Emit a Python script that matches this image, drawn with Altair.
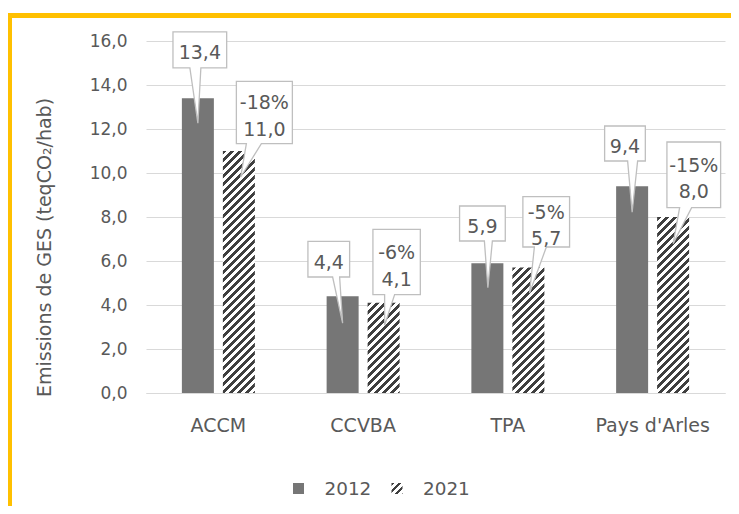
import altair as alt
import pandas as pd
import numpy as np

# ---------------- data ----------------
categories = ["ACCM", "CCVBA", "TPA", "Pays d'Arles"]
years = ["2012", "2021"]
values_2012 = [13.4, 4.4, 5.9, 9.4]
values_2021 = [11.0, 4.1, 5.7, 8.0]
change_labels = ["-18%", "-6%", "-5%", "-15%"]
y_ticks = [0, 2, 4, 6, 8, 10, 12, 14, 16]
y_title = "Emissions de GES (teqCO\u2082/hab)"

# ---------------- layout / style constants ----------------
PLOT_W, PLOT_H = 579, 352
Y_MAX = 16
PX = PLOT_H / Y_MAX
BAR_W, GAP = 32, 9
STEP = PLOT_W / len(categories)
OFF_STEP = BAR_W + GAP
OFF_PI = GAP / OFF_STEP
OFF_PO = (STEP / OFF_STEP - 2 + OFF_PI) / 2
HALF = OFF_STEP / 2

FONT = "DejaVu Sans"
TEXT = "#595959"
GRID = "#D9D9D9"
BAR_2012 = "#767676"
HATCH = "#3F3F3F"
FRAME = "#FFC000"
BOX = "#BFBFBF"
LINE_H = 26.7

# callout geometry relative to (bar centre, bar top), in pixels
CALLOUTS = {
    "2012": [
        dict(box=(-24.9, -66.4, 28.8, -30.4), base=(-8, 3), tip=(0, 25)),
        dict(box=(-34.7, -54.9, 7.0, -19.2), base=(-10, -3), tip=(0, 27)),
        dict(box=(-27.8, -57.2, 17.9, -22.2), base=(-3, 5), tip=(0.5, 24.5)),
        dict(box=(-27.5, -60.2, 13.2, -25.2), base=(-4.5, 5.5), tip=(0, 26)),
    ],
    "2021": [
        dict(box=(-2.5, -69.7, 53.5, -7.4), base=(7.5, 22.5), tip=(1.8, 26)),
        dict(box=(-10.7, -73.5, 36.7, -8.2), base=(1, 11), tip=(1, 22.5)),
        dict(box=(-5.5, -71, 41.2, -20.6), base=(6, 18), tip=(1.2, 25.4)),
        dict(box=(-6.2, -75, 47.5, -9.4), base=(6.5, 18.5), tip=(0, 26.6)),
    ],
}


def fmt(v):
    return f"{v:.1f}".replace(".", ",")


rows = []
for i, c in enumerate(categories):
    rows.append(dict(idx=i, category=c, year="2012", value=values_2012[i],
                     label=fmt(values_2012[i])))
    rows.append(dict(idx=i, category=c, year="2021", value=values_2021[i],
                     label=change_labels[i] + "\n" + fmt(values_2021[i])))
df = pd.DataFrame(rows)
one = pd.DataFrame({"k": [0]})


def hatch(w, h, period=8.0, frac=0.5):
    L = w + h
    k = L / (w * w + h * h)
    stops = []
    n = int(np.ceil(L / period))
    for j in range(n):
        a = min(j * period / L, 1.0)
        b = min((j * period + period * frac) / L, 1.0)
        c = min((j + 1) * period / L, 1.0)
        stops += [
            {"offset": round(a, 5), "color": HATCH},
            {"offset": round(b, 5), "color": HATCH},
            {"offset": round(b, 5), "color": "#FFFFFF"},
            {"offset": round(c, 5), "color": "#FFFFFF"},
        ]
    return {"gradient": "linear", "x1": 0, "y1": 0, "x2": w * k, "y2": h * k,
            "stops": stops}


def callout_path(shift, box, base, tip):
    L, T, R, B = box
    b1, b2 = base
    tx, ty = tip
    pts = [(L, T), (R, T), (R, B), (b2, B), (tx, ty), (b1, B), (L, B)]
    return "M" + " L".join(f"{x + shift:.2f},{y:.2f}" for x, y in pts) + " Z"


x_scale = alt.Scale(domain=categories, paddingInner=0, paddingOuter=0)
y_scale = alt.Scale(domain=[0, Y_MAX], nice=False)
xoff = alt.XOffset("year:N", scale=alt.Scale(domain=years, paddingInner=OFF_PI,
                                             paddingOuter=OFF_PO))

x_axis = alt.Axis(
    title=None, labelAngle=0, ticks=False, tickSize=0, grid=False,
    domainColor=GRID, domainWidth=1, labelColor=TEXT, labelFontSize=19,
    labelFont=FONT, labelBaseline="middle", labelPadding=32)
y_axis = alt.Axis(
    values=y_ticks, labelExpr="replace(format(datum.value, '.1f'), '.', ',')",
    domain=False, ticks=False, tickSize=0, grid=True, gridColor=GRID,
    gridWidth=1, labelColor=TEXT, labelFontSize=17, labelFont=FONT,
    labelPadding=19, title=y_title, titleFont=FONT, titleFontSize=19,
    titleFontWeight="normal", titleColor=TEXT, titleX=-102, titleY=206,
    titleAlign="center", titleBaseline="middle", titleAngle=270)

x_enc = alt.X("category:N", scale=x_scale, sort=categories, axis=x_axis)
y_enc = alt.Y("value:Q", scale=y_scale, axis=y_axis)

base = alt.Chart(df)
layers = []

# bars 2012
layers.append(base.mark_bar(color=BAR_2012).encode(
    x=x_enc, xOffset=xoff, y=y_enc).transform_filter("datum.year == '2012'"))

# bars 2021 (hatched)
for i, v in enumerate(values_2021):
    layers.append(base.mark_bar(fill=hatch(BAR_W, v * PX), strokeWidth=0).encode(
        x=x_enc, xOffset=xoff, y=y_enc
    ).transform_filter(f"datum.year == '2021' && datum.idx == {i}"))

# callouts
for yr, sign in (("2012", -1), ("2021", 1)):
    for i, geo in enumerate(CALLOUTS[yr]):
        shift = sign * HALF
        L, T, R, B = geo["box"]
        cx = shift + (L + R) / 2
        if yr == "2012":
            cy = (T + B) / 2 + 3.5
        else:
            cy = (T + B) / 2 - 9
        flt = f"datum.year == '{yr}' && datum.idx == {i}"
        layers.append(base.mark_point(
            shape=callout_path(shift, geo["box"], geo["base"], geo["tip"]),
            size=4, filled=True, fill="white", stroke=BOX, strokeWidth=1.3,
            opacity=1).encode(x=x_enc, y=y_enc).transform_filter(flt))
        layers.append(base.mark_text(
            dx=cx, dy=cy, font=FONT, fontSize=19, color=TEXT, align="center",
            baseline="middle", lineBreak="\n", lineHeight=LINE_H).encode(
            x=x_enc, y=y_enc, text="label:N").transform_filter(flt))

# legend (manual)
leg = alt.Chart(one)
layers.append(leg.mark_rect(fill=BAR_2012).encode(
    x=alt.value(147), x2=alt.value(158), y=alt.value(442), y2=alt.value(453)))
layers.append(leg.mark_text(text="2012", align="left", baseline="middle",
                            font=FONT, fontSize=18.4, color=TEXT).encode(
    x=alt.value(178.5), y=alt.value(447.5)))
layers.append(leg.mark_rect(fill=hatch(11, 11, period=7)).encode(
    x=alt.value(245.5), x2=alt.value(256.5), y=alt.value(442), y2=alt.value(453)))
layers.append(leg.mark_text(text="2021", align="left", baseline="middle",
                            font=FONT, fontSize=18.4, color=TEXT).encode(
    x=alt.value(277), y=alt.value(447.5)))

# yellow frame
layers.append(leg.mark_rect(fill="transparent", stroke=FRAME, strokeWidth=5).encode(
    x=alt.value(-136.5), x2=alt.value(2000), y=alt.value(-25.5), y2=alt.value(2000)))

chart = alt.layer(*layers).properties(
    width=PLOT_W, height=PLOT_H,
    autosize=alt.AutoSizeParams(type="none"),
    padding={"left": 138, "top": 33, "right": 6, "bottom": 113},
    background="white",
).configure(font=FONT).configure_view(strokeWidth=0, stroke=None)

chart.save("out.html", embed_options={"renderer": "svg", "actions": False})
